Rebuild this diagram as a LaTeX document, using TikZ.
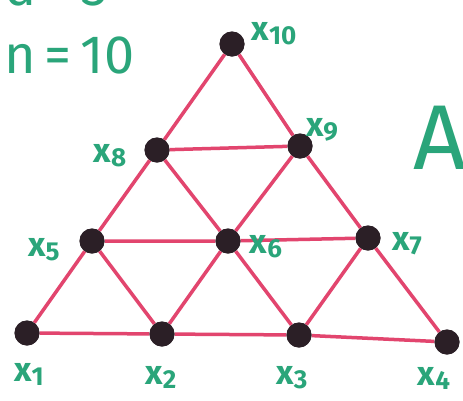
\documentclass[tikz,border=0pt]{standalone}
\usepackage{fontspec}
\setsansfont{Fira Sans}
\definecolor{hgreen}{HTML}{2AA57A}
\definecolor{hpink}{HTML}{E2456E}
\definecolor{hdot}{HTML}{2B1F26}
\newcommand{\xlbl}[1]{{\fontsize{34}{34}\selectfont x}\raisebox{-0.4em}{\fontsize{26}{26}\selectfont #1}}
\begin{document}
\begin{tikzpicture}[x=1pt,y=-1pt,
  vert/.style={circle,fill=hdot,inner sep=0pt,minimum size=25pt},
  edge/.style={draw=hpink,line width=3.5pt},
  lbl/.style={text=hgreen,font=\sffamily\bfseries,inner sep=0pt},
  big/.style={text=hgreen,inner sep=0pt}]
\useasboundingbox (0,0) rectangle (463,400);
\clip (0,0) rectangle (463,400);
\fill[white] (0,0) rectangle (463,400);
% vertices
\node[vert] (x1) at (27,333) {};
\node[vert] (x2) at (162,334) {};
\node[vert] (x3) at (299,335) {};
\node[vert] (x4) at (447,342) {};
\node[vert] (x5) at (92,241) {};
\node[vert] (x6) at (228,241) {};
\node[vert] (x7) at (368,238) {};
\node[vert] (x8) at (157,150) {};
\node[vert] (x9) at (300,146) {};
\node[vert] (x10) at (232,44) {};
% edges
\path[edge] (x1) -- (x2) -- (x3) -- (x4);
\path[edge] (x5) -- (x6) -- (x7);
\path[edge] (x8) -- (x9);
\path[edge] (x1) -- (x5) -- (x8) -- (x10);
\path[edge] (x4) -- (x7) -- (x9) -- (x10);
\path[edge] (x2) -- (x5);
\path[edge] (x2) -- (x6) -- (x3);
\path[edge] (x3) -- (x7);
\path[edge] (x8) -- (x6) -- (x9);
% redraw vertices on top
\foreach \p in {(27,333),(162,334),(299,335),(447,342),(92,241),(228,241),(368,238),(157,150),(300,146),(232,44)}
  \fill[hdot] \p circle (12.5pt);
% labels
\node[lbl] (l10) at (274,34) {\xlbl{10}};
\node[lbl] (l9) at (322,130) {\xlbl{9}};
\node[lbl] (l8) at (110,156) {\xlbl{8}};
\node[lbl] (l5) at (44,250) {\xlbl{5}};
\node[lbl] (l6) at (266,247) {\xlbl{6}};
\node[lbl] (l7) at (407,244) {\xlbl{7}};
\node[lbl] (l1) at (29,374) {\xlbl{1}};
\node[lbl] (l2) at (161,377) {\xlbl{2}};
\node[lbl] (l3) at (292,378) {\xlbl{3}};
\node[lbl] (l4) at (434,378) {\xlbl{4}};
% titles
\node[big,font=\sffamily\fontsize{54}{54}\selectfont,anchor=west] (nn) at (4,55) {n\,=\,10};
\node[big,font=\sffamily\fontsize{54}{54}\selectfont,anchor=west] (dd) at (4,-14) {d\,=\,3};
\node[big,font=\sffamily\fontsize{92}{92}\selectfont,anchor=west] (AA) at (413,138) {A};
\end{tikzpicture}
\end{document}
